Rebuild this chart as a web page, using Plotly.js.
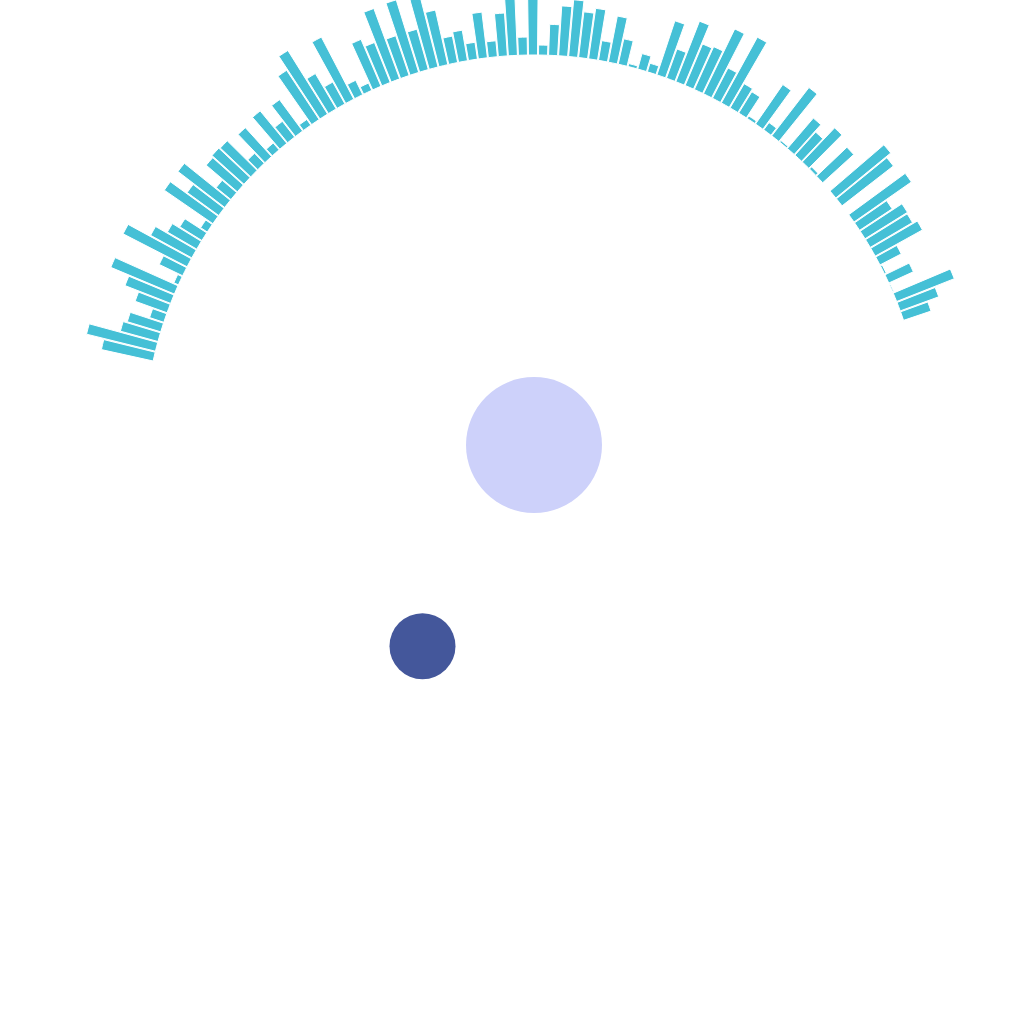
<!DOCTYPE html>
<html>
<head>
<meta charset="utf-8">
<script src="https://cdn.plot.ly/plotly-3.0.1.min.js"></script>
<style>
  html, body { margin: 0; padding: 0; background: #ffffff; overflow: hidden; }
  /* the plot is a bit taller than the window and starts above it,
     so the longest bars at the top run off the edge as in the original */
  #chart { position: absolute; left: 0; top: -40px; width: 1024px; height: 1064px; }
</style>
</head>
<body>
<div id="chart"></div>
<script>
/* ----- Data ------- */
// bar lengths, left end of the arc first, going clockwise over the top
var barValues = [
    53, 71, 39, 35, 15, 34, 49, 69, 5, 26,
    72, 47, 34, 26, 8, 59, 39, 59, 19, 41,
    43, 42, 14, 39, 9, 42, 20, 39, 7, 59,
    75, 41, 25, 70, 16, 8, 51, 43, 75, 42,
    76, 42, 72, 56, 27, 31, 17, 46, 16, 43,
    62, 18, 65, 10, 31, 50, 57, 46, 51, 20,
    47, 26, 3, 16, 9, 57, 31, 65, 45, 47,
    72, 34, 75, 28, 25, 3, 48, 9, 61, 2,
    40, 31, 47, 3, 42, 0, 71, 65, 0, 70,
    39, 50, 49, 54, 24, 2, 27, 1, 62, 41,
    29
];
var barLabels = barValues.map(function(v, i) { return String(i + 1); });

// the two round markers in the middle
var centerDotR = [0];
var centerDotSize = [136];
var sideDotR = [230];
var sideDotTheta = [241];
var sideDotSize = [66];

/* ----- Layout constants ------- */
var W = 1024, H = 1064;   // plot size, 40px of it sits above the window
var CX = 534, CY = 485;   // centre of the rings inside the plot
var OUTER = 475;          // radial range max (one unit = one pixel)
var INNER = 390;          // where every bar starts
var STEP = 1.476;         // degrees per category
var START = 166.9;        // angle of the first bar

var polarDomain = {
    x: [(CX - OUTER) / W, (CX + OUTER) / W],
    y: [(H - CY - OUTER) / H, (H - CY + OUTER) / H]
};

var bars = {
    type: 'barpolar',
    subplot: 'polar',
    theta: barLabels,
    r: barValues,
    base: INNER,
    marker: {
        color: '#45c0d6',
        opacity: 1,
        line: { color: '#ffffff', width: 1 }
    },
    hoverinfo: 'none'
};

var centerDot = {
    type: 'scatterpolar',
    subplot: 'polar2',
    mode: 'markers',
    r: centerDotR,
    theta: [0],
    marker: { size: centerDotSize, color: '#cdd1fa', opacity: 1, line: { width: 0 } },
    hoverinfo: 'none'
};

var sideDot = {
    type: 'scatterpolar',
    subplot: 'polar2',
    mode: 'markers',
    r: sideDotR,
    theta: sideDotTheta,
    marker: { size: sideDotSize, color: '#44579b', opacity: 1, line: { width: 0 } },
    hoverinfo: 'none'
};

var hiddenRadial = {
    range: [0, OUTER],
    autorange: false,
    visible: false,
    showgrid: false,
    showline: false,
    showticklabels: false,
    ticks: ''
};

var layout = {
    width: W,
    height: H,
    margin: { l: 0, r: 0, t: 0, b: 0 },
    paper_bgcolor: '#ffffff',
    showlegend: false,
    polar: {
        domain: polarDomain,
        bgcolor: 'rgba(0,0,0,0)',
        bargap: 0.1,
        radialaxis: hiddenRadial,
        angularaxis: {
            type: 'category',
            period: 360 / STEP,
            rotation: START,
            direction: 'clockwise',
            visible: false,
            showgrid: false,
            showline: false,
            showticklabels: false,
            ticks: ''
        }
    },
    polar2: {
        domain: polarDomain,
        bgcolor: 'rgba(0,0,0,0)',
        radialaxis: hiddenRadial,
        angularaxis: {
            visible: false,
            showgrid: false,
            showline: false,
            showticklabels: false,
            ticks: ''
        }
    }
};

Plotly.newPlot('chart', [bars, centerDot, sideDot], layout, { staticPlot: true });
</script>
</body>
</html>
